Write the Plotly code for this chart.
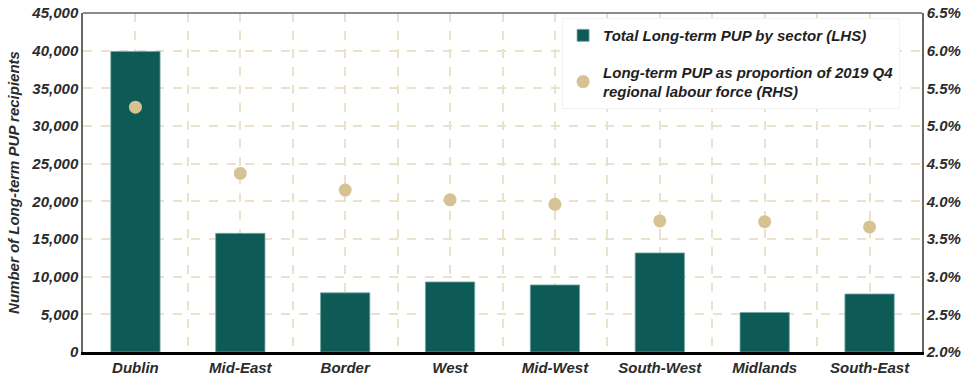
import plotly.graph_objects as go

regions = ["Dublin", "Mid-East", "Border", "West", "Mid-West", "South-West", "Midlands", "South-East"]
pup_total = [39900, 15750, 7850, 9300, 8900, 13150, 5250, 7700]
pup_share = [5.25, 4.37, 4.15, 4.02, 3.96, 3.74, 3.73, 3.66]
left_ticks = list(range(0, 45001, 5000))
right_ticks = [2.0 + 0.5 * i for i in range(10)]

xpos = list(range(len(regions)))
font_fam = "Liberation Sans, Arial, sans-serif"
tick_font = dict(family=font_fam, size=15, color="#2b2b2b", weight="bold", style="italic")
grid_col = "#ece1ca"

fig = go.Figure()
fig.add_trace(go.Bar(
    x=xpos, y=pup_total, name="Total Long-term PUP by sector (LHS)",
    marker=dict(color="#0e5a56", line=dict(color="#6fa8a2", width=0.8)),
    width=0.47, legendgroup="a", yaxis="y"))
fig.add_trace(go.Scatter(
    x=xpos, y=pup_share, mode="markers",
    name="Long-term PUP as proportion of 2019 Q4<br>regional labour force (RHS)",
    marker=dict(color="#d6c292", size=13), legendgroup="b", yaxis="y2"))

fig.update_layout(
    width=975, height=378,
    margin=dict(l=83, r=53, t=13, b=26),
    paper_bgcolor="white", plot_bgcolor="white",
    font=dict(family=font_fam, size=15, color="#2b2b2b"),
    xaxis=dict(
        range=[-0.5, len(regions) - 0.5], tickvals=xpos, ticktext=regions,
        tickfont=tick_font, ticks="", showgrid=True, gridcolor=grid_col, griddash="dash",
        gridwidth=1.5, automargin=False,
        minor=dict(tickvals=[i + 0.5 for i in range(-1, len(regions))],
                   showgrid=True, gridcolor=grid_col, griddash="dash", gridwidth=1.5, ticks=""),
        showline=True, linecolor="black", linewidth=2.5, mirror=False, zeroline=False,
    ),
    yaxis=dict(
        range=[0, 45000], tickvals=left_ticks, ticktext=[f"{v:,}" for v in left_ticks],
        tickfont=tick_font, showgrid=True, gridcolor=grid_col, griddash="dash", gridwidth=1.5,
        showline=True, linecolor="#666666", linewidth=1.5, zeroline=False, ticks="",
        automargin=False,
        title=dict(text="Number of Long-term PUP recipients",
                   font=dict(family=font_fam, size=15, color="#2b2b2b", weight="bold", style="italic"),
                   standoff=8),
    ),
    yaxis2=dict(
        range=[2.0, 6.5], overlaying="y", side="right", tickvals=right_ticks,
        ticktext=[f"{v:.1f}%" for v in right_ticks], tickfont=tick_font, automargin=False,
        showgrid=False, showline=True, linecolor="#666666", linewidth=1.5, zeroline=False, ticks="",
    ),
    legend=dict(
        x=0.571, y=0.985, xanchor="left", yanchor="top",
        bgcolor="white", bordercolor="#f2f2f2", borderwidth=1,
        font=dict(family=font_fam, size=15, color="#1f1f1f", weight="bold", style="italic"),
        traceorder="grouped", tracegroupgap=14, itemwidth=30,
    ),
    shapes=[dict(type="line", xref="paper", yref="paper", x0=0, x1=1, y0=1, y1=1,
                 line=dict(color="#666666", width=1.5))],
)
fig.write_html("out.html")
